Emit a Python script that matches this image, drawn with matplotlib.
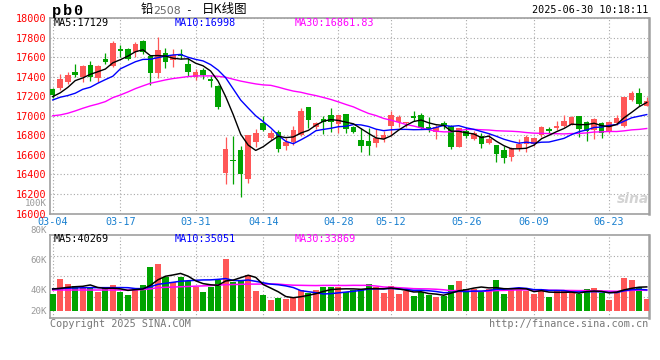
import numpy as np
import pandas as pd
import matplotlib
matplotlib.use('Agg')
import matplotlib.pyplot as plt

# trading days shown on the chart
dates = ['03-04', '03-05', '03-06', '03-07', '03-10', '03-11', '03-12', '03-13', '03-14', '03-17',
         '03-18', '03-19', '03-20', '03-21', '03-24', '03-25', '03-26', '03-27', '03-28', '03-31',
         '04-01', '04-02', '04-03', '04-07', '04-08', '04-09', '04-10', '04-11', '04-14', '04-15',
         '04-16', '04-17', '04-18', '04-21', '04-22', '04-23', '04-24', '04-25', '04-28', '04-29',
         '04-30', '05-06', '05-07', '05-08', '05-09', '05-12', '05-13', '05-14', '05-15', '05-16',
         '05-19', '05-20', '05-21', '05-22', '05-23', '05-26', '05-27', '05-28', '05-29', '05-30',
         '06-03', '06-04', '06-05', '06-06', '06-09', '06-10', '06-11', '06-12', '06-13', '06-16',
         '06-17', '06-18', '06-19', '06-20', '06-23', '06-24', '06-25', '06-26', '06-27', '06-30']
tick_labels = ['03-04', '03-17', '03-31', '04-14', '04-28', '05-12', '05-26', '06-09', '06-23']

opens = [17270, 17289, 17350, 17450, 17395, 17515, 17385, 17580, 17505, 17685,
         17680, 17650, 17760, 17610, 17435, 17645, 17570, 17635, 17530, 17400,
         17470, 17375, 17305, 16420, 16545, 16650, 16355, 16735, 16925, 16775,
         16830, 16695, 16735, 16805, 17090, 16885, 16965, 17005, 16915, 17016,
         16883, 16755, 16745, 16720, 16760, 16900, 16940, 16925, 17000, 17010,
         16890, 16830, 16930, 16895, 16685, 16840, 16760, 16795, 16726, 16700,
         16650, 16576, 16675, 16709, 16712, 16804, 16862, 16872, 16896, 16906,
         16999, 16941, 16855, 16930, 16838, 16930, 16896, 17162, 17230, 17101]
highs = [17285, 17430, 17450, 17530, 17515, 17560, 17515, 17645, 17760, 17725,
         17690, 17750, 17770, 17625, 17805, 17690, 17680, 17680, 17590, 17475,
         17485, 17420, 17320, 16785, 16790, 16695, 16805, 16870, 17000, 16855,
         16855, 16770, 16895, 17075, 17090, 16940, 17000, 17075, 17010, 17016,
         16900, 16880, 16880, 16870, 16840, 17045, 17010, 16940, 17050, 17025,
         16990, 16905, 16950, 16905, 16875, 16890, 16840, 16820, 16821, 16700,
         16695, 16685, 16760, 16804, 16777, 16896, 16890, 16951, 17009, 16999,
         17000, 16951, 16975, 16941, 16948, 17009, 17196, 17258, 17282, 17196]
lows = [17180, 17265, 17325, 17400, 17350, 17355, 17343, 17530, 17500, 17600,
        17570, 17605, 17630, 17315, 17385, 17485, 17500, 17580, 17405, 17365,
        17375, 17290, 17070, 16300, 16300, 16165, 16310, 16685, 16840, 16750,
        16625, 16650, 16700, 16790, 16880, 16870, 16815, 16830, 16820, 16825,
        16820, 16627, 16600, 16685, 16735, 16795, 16890, 16890, 16950, 16860,
        16830, 16760, 16870, 16660, 16685, 16777, 16750, 16675, 16712, 16530,
        16520, 16542, 16644, 16627, 16695, 16787, 16821, 16855, 16890, 16906,
        16787, 16746, 16760, 16777, 16828, 16906, 16890, 17152, 17101, 17101]
closes = [17215, 17377, 17418, 17420, 17505, 17400, 17510, 17555, 17740, 17665,
          17580, 17735, 17655, 17435, 17675, 17555, 17625, 17610, 17450, 17450,
          17420, 17360, 17090, 16660, 16535, 16410, 16805, 16820, 16850, 16820,
          16660, 16735, 16855, 17050, 16955, 16925, 16940, 16935, 17008, 16868,
          16838, 16695, 16692, 16777, 16804, 17009, 16985, 16935, 16975, 16880,
          16865, 16890, 16895, 16685, 16872, 16790, 16828, 16710, 16760, 16610,
          16565, 16668, 16712, 16787, 16770, 16890, 16845, 16896, 16951, 16992,
          16862, 16849, 16965, 16828, 16941, 16975, 17196, 17237, 17118, 17155]
volumes = [28200, 53600, 45100, 41700, 37800, 39500, 32100, 37800, 43400, 32100,
           26500, 38400, 43400, 73900, 79500, 56400, 49100, 56400, 50800, 40600,
           32100, 39500, 51900, 87400, 47900, 52500, 60300, 33800, 26500, 18000,
           21400, 20300, 23700, 35000, 29900, 35000, 39500, 39500, 39500, 31600,
           34400, 36100, 45100, 39500, 29900, 41700, 28200, 33800, 24800, 31600,
           27100, 23100, 24300, 43400, 50200, 36700, 36700, 33300, 36100, 51900,
           28200, 35500, 35500, 33800, 28200, 36700, 23100, 33800, 33800, 29900,
           27600, 36700, 38400, 30500, 18000, 33800, 55300, 51900, 40000, 20300]

# moving averages before each window fills
ma5_head = [17196, 17235, 17290, 17360]
ma10_head = [17162, 17190, 17207, 17231, 17271, 17292, 17333, 17370, 17405]
ma30_head = [17000, 17009, 17026, 17050, 17077, 17101, 17121, 17145, 17186, 17213,
             17244, 17278, 17306, 17333, 17350, 17367, 17381, 17391, 17401, 17408,
             17408, 17408, 17404, 17394, 17374, 17355, 17340, 17326, 17316]
vma5_head = [36700, 37800, 39500, 40600]
vma10_head = [37000, 37500, 38000, 38500, 38800, 39000, 39000, 39000, 39000]
vma30_head = [35000, 35000, 35000, 35000, 35000, 35000, 35000, 35000, 35000, 35000,
              35000, 35000, 35800, 37000, 39000, 39500, 40000, 40500, 41000, 41500,
              42000, 42500, 43500, 44000, 44300, 44600, 45000, 45000, 45100]

W, H = 660, 360
RED = '#ff5757'
GREEN = '#00a300'
GRID = '#a8a8a8'
FRAME = '#a0a0a0'
MONO = 'DejaVu Sans Mono'
CJK = ['Noto Sans CJK SC', 'DejaVu Sans']


def fx(x):
    return x / W


def fy(y):
    return 1 - y / H


def with_head(values, head, n):
    ma = pd.Series(values, dtype=float).rolling(n).mean()
    ma.iloc[:len(head)] = head
    return ma.values


idx = np.arange(len(dates))
o = np.array(opens, dtype=float)
c = np.array(closes, dtype=float)
up = c >= o
colors = np.where(up, RED, GREEN)
tick_pos = [dates.index(d) for d in tick_labels]

fig = plt.figure(figsize=(W / 100, H / 100), dpi=100)
fig.patch.set_facecolor('white')

ax_p = fig.add_axes([fx(50), fy(213.6), (649 - 50) / W, (213.6 - 18) / H])
ax_v = fig.add_axes([fx(50), fy(318), (649 - 50) / W, (318 - 234.7) / H])

# price panel
ax_p.vlines(idx, lows, highs, colors=colors, linewidth=0.9, zorder=3)
body_low = np.minimum(o, c)
body_h = np.maximum(np.abs(c - o), 8)
ax_p.bar(idx, body_h, bottom=body_low, width=0.74, color=colors, linewidth=0, zorder=4)

ax_p.plot(idx, with_head(closes, ma30_head, 30), color='#ff00ff', lw=1.0, zorder=5)
ax_p.plot(idx, with_head(closes, ma10_head, 10), color='#0000ff', lw=1.0, zorder=5)
ax_p.plot(idx, with_head(closes, ma5_head, 5), color='black', lw=1.0, zorder=6)

ax_p.set_xlim(-0.36, 79.3)
ax_p.set_ylim(16000, 18000)
ax_p.set_yticks(range(16000, 18001, 200))
ax_p.set_xticks(tick_pos)
ax_p.set_xticklabels(tick_labels)
ax_p.tick_params(axis='y', length=0, pad=2.5, labelcolor='#ff0000', labelsize=7.3)
ax_p.tick_params(axis='x', length=0, pad=2.5, labelcolor='#1a80d0', labelsize=7.3)
for lab in ax_p.get_xticklabels() + ax_p.get_yticklabels():
    lab.set_fontfamily(MONO)
for lab in ax_p.get_yticklabels():
    lab.set_verticalalignment('center_baseline')
ax_p.grid(True, color=GRID, linestyle=(0, (1, 2)), linewidth=0.8, zorder=0)

# volume panel
ax_v.bar(idx, volumes, width=0.8, color=colors, linewidth=0, zorder=3)
ax_v.plot(idx, with_head(volumes, vma30_head, 30), color='#ff00ff', lw=1.1, zorder=5)
ax_v.plot(idx, with_head(volumes, vma10_head, 10), color='#0000ff', lw=1.1, zorder=5)
ax_v.plot(idx, with_head(volumes, vma5_head, 5), color='black', lw=1.1, zorder=6)
ax_v.set_xlim(-0.36, 79.3)
v_lo, v_hi = -12350, 128600
ax_v.set_ylim(v_lo, v_hi)
ax_v.set_xticks(tick_pos)
ax_v.set_yticks([v_lo + (v_hi - v_lo) * k / 4 for k in (1, 2, 3)])
ax_v.tick_params(length=0, labelbottom=False, labelleft=False)
ax_v.grid(True, color=GRID, linestyle=(0, (1, 2)), linewidth=0.8, zorder=0)

for ax in (ax_p, ax_v):
    ax.set_axisbelow(True)
    for sp in ax.spines.values():
        sp.set_color(FRAME)
        sp.set_linewidth(1.2)
    ax.spines['right'].set_linewidth(1.8)

# headings: the symbol is drawn with wide letter spacing
for k, ch in enumerate('pb0'):
    fig.text(fx(52 + 10.5 * k), fy(11), ch, family='Liberation Mono', weight='bold', size=11,
             va='center')
fig.text(fx(141), fy(10), '铅', family=CJK, size=9, va='center')
fig.text(fx(153), fy(10.5), '2508', family='DejaVu Sans', size=7.8, color='#666666', va='center')
fig.text(fx(185), fy(10), '-', family=MONO, size=8, va='center')
fig.text(fx(202), fy(10), '日K线图', family=CJK, size=9, va='center')
fig.text(fx(648), fy(10), '2025-06-30 10:18:11', family=MONO, size=7.3, ha='right', va='center')

# moving average legends
fig.text(fx(54), fy(23.5), 'MA5:17129', family=MONO, size=7.3, color='black', va='center')
fig.text(fx(175), fy(23.5), 'MA10:16998', family=MONO, size=7.3, color='#0000ff', va='center')
fig.text(fx(295), fy(23.5), 'MA30:16861.83', family=MONO, size=7.3, color='#ff00ff', va='center')
fig.text(fx(54), fy(238.5), 'MA5:40269', family=MONO, size=7.3, color='black', va='center')
fig.text(fx(175), fy(238.5), 'MA10:35051', family=MONO, size=7.3, color='#0000ff', va='center')
fig.text(fx(295), fy(238.5), 'MA30:33869', family=MONO, size=7.3, color='#ff00ff', va='center')

# volume scale labels
for lab, y in [('100K', 203), ('80K', 230.7), ('60K', 260.7), ('40K', 290.7), ('20K', 311)]:
    fig.text(fx(47), fy(y), lab, family=MONO, size=6.6, color='#999999', ha='right', va='center')

# footer and watermark
fig.text(fx(50), fy(324), 'Copyright 2025 SINA.COM', family=MONO, size=7.3, color='#777777', va='center')
fig.text(fx(648), fy(324), 'http://finance.sina.com.cn', family=MONO, size=7.3, color='#777777',
         ha='right', va='center')
fig.text(fx(633), fy(199), 'sina', family='DejaVu Sans', size=10, weight='bold', style='italic',
         color='#c8c8c8', ha='center', va='center', alpha=0.8)

fig.savefig('out.png', dpi=100, facecolor='white')
